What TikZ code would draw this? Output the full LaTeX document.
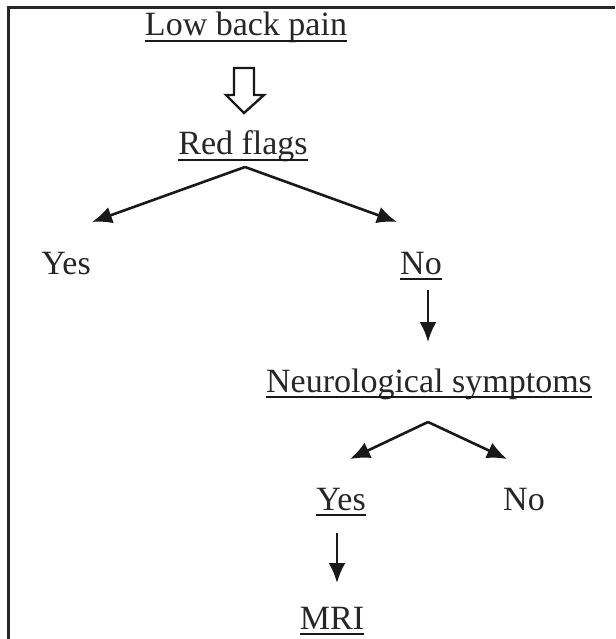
\documentclass[tikz,border=0pt]{standalone}
\usepackage{fontspec}
\setmainfont{Liberation Serif}
\usetikzlibrary{arrows.meta}

\begin{document}
\begin{tikzpicture}[x=1pt,y=-1pt,
  label/.style={anchor=base,inner sep=0pt,font=\fontsize{34}{40}\selectfont,text=black!85},
  arr/.style={-{Latex[length=20pt,width=17pt]},line width=2.6pt,black!90},
  uline/.style={line width=2.4pt,black!90}]
  \useasboundingbox (0,0) rectangle (615,639);
  % frame (top and left only)
  \draw[line width=3pt,black!85] (615,8) -- (8,8) -- (8,639);
  % labels
  \node[label] (lbp)   at (246,36)  {Low back pain};
  \node[label] (red)   at (243,155) {Red flags};
  \node[label] (yesA)  at (66,274)  {Yes};
  \node[label] (noA)   at (421,274) {No};
  \node[label] (neuro) at (429,392) {Neurological symptoms};
  \node[label] (yesB)  at (341,510) {Yes};
  \node[label] (noB)   at (524,510) {No};
  \node[label] (mri)   at (332,629) {MRI};
  % underlines
  \foreach \n in {lbp,red,noA,neuro,yesB,mri}
    \draw[uline] ([yshift=-5pt]\n.base west) -- ([yshift=-5pt]\n.base east);
  % hollow arrow
  \draw[line width=2.4pt,black!90,line join=miter]
    (234,68) -- (254,68) -- (254,95) -- (264,95) -- (244,113)
    -- (226,95) -- (234,95) -- cycle;
  % branch points
  \coordinate (splitA) at (245,167);
  \coordinate (tipYesA) at (92,222);
  \coordinate (tipNoA) at (397,222);
  \coordinate (splitB) at (428,422);
  \coordinate (tipYesB) at (350,459);
  \coordinate (tipNoB) at (507,459);
  \draw[arr] (splitA) -- (tipYesA);
  \draw[arr] (splitA) -- (tipNoA);
  \draw[arr] (428,290) -- (428,342);
  \draw[arr] (splitB) -- (tipYesB);
  \draw[arr] (splitB) -- (tipNoB);
  \draw[arr] (337,533) -- (337,583);
\end{tikzpicture}
\end{document}
